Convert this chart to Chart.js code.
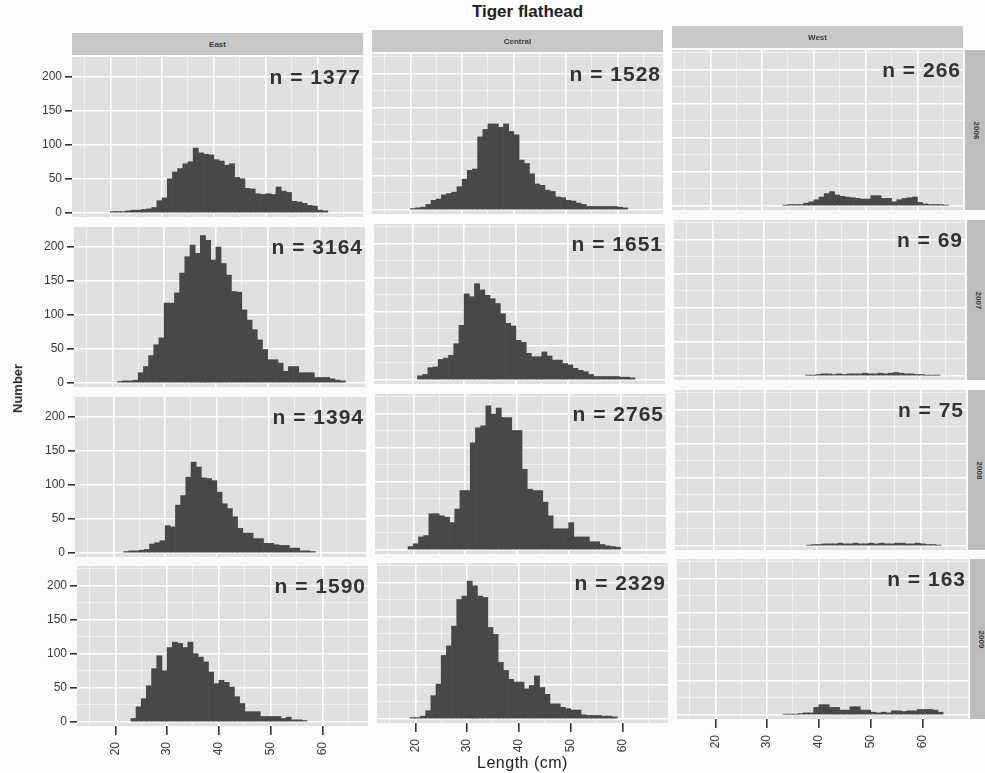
<!DOCTYPE html>
<html>
<head>
<meta charset="utf-8">
<script src="https://cdn.jsdelivr.net/npm/chart.js@4.4.1/dist/chart.umd.min.js"></script>
<style>
  body { margin: 0; background: #fbfbfb; font-family: "Liberation Sans", Arial, sans-serif; }
  #fig { position: relative; width: 985px; height: 773px; overflow: hidden; }
  #fig canvas { position: absolute; }
  .strip { position: absolute; background: #c8c8c8; color: #3a3a3a; font-size: 8px; font-weight: bold;
           display: flex; align-items: center; justify-content: center; }
  .vstrip span { transform: rotate(90deg); white-space: nowrap; }
  .lbl { position: absolute; color: #222; white-space: nowrap; }
</style>
</head>
<body>
<div id="fig"></div>
<script>
// bin starts (cm), 1 cm bins
const lengths = [15,16,17,18,19,20,21,22,23,24,25,26,27,28,29,30,31,32,33,34,35,36,37,38,39,40,
                 41,42,43,44,45,46,47,48,49,50,51,52,53,54,55,56,57,58,59,60,61,62,63,64,65];

const xTickLabels = [20, 30, 40, 50, 60];
const yTickLabels = [0, 50, 100, 150, 200];

const colNames = ['East', 'Central', 'West'];
const rowNames = ['2006', '2007', '2008', '2009'];

const nRow1 = [1377, 1528, 266];
const nRow2 = [3164, 1651, 69];
const nRow3 = [1394, 2765, 75];
const nRow4 = [1590, 2329, 163];

// counts per bin, row by row
const row1col1 = [0,0,0,0,0,2,2,2,3,4,4,5,6,8,18,22,50,60,65,72,75,95,88,86,85,78,76,70,72,52,50,36,35,28,27,28,27,38,32,30,17,16,14,11,10,4,3,0,0,0,0];
const row1col2 = [0,0,0,0,0,2,3,4,8,14,16,22,24,26,34,45,58,60,107,118,126,126,121,126,115,110,73,68,53,38,36,29,27,19,18,14,13,10,8,5,5,5,5,5,5,4,3,0,0,0,0];
const row1col3 = [0,0,0,0,0,0,0,0,0,0,0,0,0,0,0,0,0,0,0,1,2,2,2,4,6,9,13,18,21,16,14,13,12,11,10,10,15,15,11,11,6,9,11,12,13,5,3,2,2,2,1];

const row2col1 = [0,0,0,0,0,0,2,3,3,4,15,24,40,56,66,117,117,132,161,185,202,190,216,209,180,199,175,158,134,133,107,92,78,63,49,34,34,29,17,24,24,15,15,15,8,8,8,6,4,3,0];
const row2col2 = [0,0,0,0,0,0,6,8,18,19,30,32,36,53,80,126,122,141,132,124,119,112,97,83,79,58,55,39,34,34,41,35,29,29,24,22,17,14,12,8,5,5,5,5,5,4,4,3,0,0,0];
const row2col3 = [0,0,0,0,0,0,0,0,0,0,0,0,0,0,0,0,0,0,0,0,0,0,0,1,1,2,3,3,2,3,2,3,3,3,4,3,3,4,3,4,5,4,3,3,2,2,1,1,1,0,0];

const row3col1 = [0,0,0,0,0,0,0,2,3,3,4,5,13,15,18,40,38,70,84,111,133,126,110,109,106,89,72,65,53,36,29,29,21,21,14,14,12,11,11,7,7,3,3,2,0,0,0,0,0,0,0];
const row3col2 = [0,0,0,0,5,9,19,21,53,53,50,48,40,60,87,87,157,179,182,211,199,208,194,194,175,175,118,89,87,87,70,50,31,31,31,40,19,19,19,12,12,8,6,5,4,0,0,0,0,0,0];
const row3col3 = [0,0,0,0,0,0,0,0,0,0,0,0,0,0,0,0,0,0,0,0,0,0,0,1,2,2,3,3,3,4,3,3,4,3,3,4,3,4,3,3,4,4,3,3,4,3,2,2,1,0,0];

const row4col1 = [0,0,0,0,0,0,0,0,5,22,34,53,78,97,75,109,117,115,109,117,100,95,88,73,56,61,58,51,37,27,15,15,15,8,8,8,8,5,7,3,3,2,0,0,0,0,0,0,0,0,0];
const row4col2 = [0,0,0,0,2,2,4,12,34,51,93,107,136,175,180,202,195,180,178,134,124,83,71,58,54,54,44,49,63,46,36,22,22,17,15,13,13,6,5,5,5,4,4,3,0,0,0,0,0,0,0];
const row4col3 = [0,0,0,0,0,0,0,0,0,0,0,0,0,0,0,0,0,0,1,1,1,2,3,3,11,15,15,11,11,7,7,12,12,7,7,4,3,4,3,6,6,5,6,6,8,8,8,7,4,0,0];

const panels = [
  [row1col1, row1col2, row1col3],
  [row2col1, row2col2, row2col3],
  [row3col1, row3col2, row3col3],
  [row4col1, row4col2, row4col3]
];
const panelN = [nRow1, nRow2, nRow3, nRow4];

// layout (the scan is slightly skewed, so rows/cols drift a little)
const PW = 291, PH = 160;
const colLeft = [72, 372, 672];
const rowTop = [57, 227, 397, 566];
const rowDx = [0, 1.5, 3, 4.7];
const colDy = [0, -3, -7];
const FONT = '"Liberation Sans", Arial, sans-serif';

const fig = document.getElementById('fig');

function addDiv(cls, style, html) {
  const d = document.createElement('div');
  d.className = cls;
  Object.assign(d.style, style);
  d.innerHTML = html;
  fig.appendChild(d);
  return d;
}

const panelPlugin = {
  id: 'panel',
  beforeDraw(chart) {
    const a = chart.chartArea, ctx = chart.ctx;
    ctx.save();
    ctx.fillStyle = '#e0e0e0';
    ctx.fillRect(a.left, a.top, a.right - a.left, a.bottom - a.top);
    ctx.restore();
  },
  afterDraw(chart, args, opts) {
    const a = chart.chartArea, ctx = chart.ctx;
    ctx.save();
    ctx.fillStyle = '#333';
    ctx.font = 'bold 21px ' + FONT;
    ctx.letterSpacing = '1px';
    ctx.textAlign = 'right';
    ctx.textBaseline = 'alphabetic';
    ctx.fillText('n = ' + opts.n, a.right - 2, a.top + 27);
    ctx.restore();
  }
};

const isMajorX = v => v % 10 === 0;
const isMajorY = v => v % 50 === 0;

for (let r = 0; r < 4; r++) {
  for (let c = 0; c < 3; c++) {
    const left = Math.round(colLeft[c] + rowDx[r]);
    const top = Math.round(rowTop[r] + colDy[c]);
    const leftPad = c === 0 ? left : 0;
    const bottomPad = r === 3 ? 45 : 0;

    const cv = document.createElement('canvas');
    cv.width = PW + leftPad;
    cv.height = PH + bottomPad;
    cv.style.left = (left - leftPad) + 'px';
    cv.style.top = top + 'px';
    fig.appendChild(cv);

    const counts = panels[r][c];
    new Chart(cv, {
      type: 'bar',
      data: {
        datasets: [{
          data: lengths.map((L, i) => ({ x: L + 0.5, y: counts[i] > 0 ? counts[i] : null })),
          backgroundColor: '#484848',
          borderWidth: 0,
          barPercentage: 1,
          categoryPercentage: 1
        }]
      },
      options: {
        responsive: false,
        animation: false,
        events: [],
        layout: { padding: 0, autoPadding: false },
        plugins: { legend: { display: false }, tooltip: { enabled: false }, panel: { n: panelN[r][c] } },
        scales: {
          x: {
            type: 'linear', min: 12.6, max: 68.8, offset: false,
            border: { display: false },
            grid: {
              offset: false,
              color: ctx => isMajorX(ctx.tick.value) ? '#ffffff' : 'rgba(255,255,255,0.8)',
              lineWidth: ctx => isMajorX(ctx.tick.value) ? 1.6 : 0.7,
              drawTicks: r === 3, tickLength: 9,
              tickColor: ctx => isMajorX(ctx.tick.value) ? '#333' : 'rgba(0,0,0,0)'
            },
            ticks: {
              display: r === 3, stepSize: 5, includeBounds: false, autoSkip: false,
              minRotation: 90, maxRotation: 90, padding: 7,
              color: '#3a3a3a', font: { size: 12, family: FONT },
              callback: v => xTickLabels.includes(v) ? String(v) : ''
            },
            afterFit: s => { s.height = bottomPad; s.paddingLeft = 0; s.paddingRight = 0; }
          },
          y: {
            min: -6, max: 228.5,
            border: { display: false },
            grid: {
              color: ctx => isMajorY(ctx.tick.value) ? '#ffffff' : 'rgba(255,255,255,0.8)',
              lineWidth: ctx => isMajorY(ctx.tick.value) ? 1.6 : 0.7,
              drawTicks: c === 0, tickLength: 7,
              tickColor: ctx => isMajorY(ctx.tick.value) ? '#333' : 'rgba(0,0,0,0)'
            },
            ticks: {
              display: c === 0, stepSize: 25, includeBounds: false, padding: 3,
              color: '#3a3a3a', font: { size: 12, family: FONT },
              callback: v => yTickLabels.includes(v) ? String(v) : ''
            },
            afterFit: s => { s.width = leftPad; s.paddingTop = 0; s.paddingBottom = 0; }
          }
        }
      },
      plugins: [panelPlugin]
    });
  }
}

// column strips
for (let c = 0; c < 3; c++) {
  addDiv('strip', {
    left: (colLeft[c] + rowDx[0]) + 'px', top: (rowTop[0] + colDy[c] - 24) + 'px',
    width: PW + 'px', height: '22px'
  }, colNames[c]);
}
// row strips
for (let r = 0; r < 4; r++) {
  addDiv('strip vstrip', {
    left: (colLeft[2] + rowDx[r] + PW + 2) + 'px', top: (rowTop[r] + colDy[2]) + 'px',
    width: '24px', height: PH + 'px', background: '#bdbdbd'
  }, '<span>' + rowNames[r] + '</span>');
}

addDiv('lbl', { left: '0', width: '985px', top: '2px', textAlign: 'center', paddingLeft: '70px', boxSizing: 'border-box',
                fontSize: '17px', fontWeight: 'bold' }, 'Tiger flathead');
addDiv('lbl', { left: '-7px', top: '381px', fontSize: '13px', fontWeight: 'bold', color: '#2a2a2a',
                transform: 'rotate(-90deg)' }, 'Number');
addDiv('lbl', { left: '0', width: '985px', top: '754px', textAlign: 'center', paddingLeft: '60px', boxSizing: 'border-box',
                fontSize: '16px', letterSpacing: '0.5px' }, 'Length (cm)');
</script>
</body>
</html>
